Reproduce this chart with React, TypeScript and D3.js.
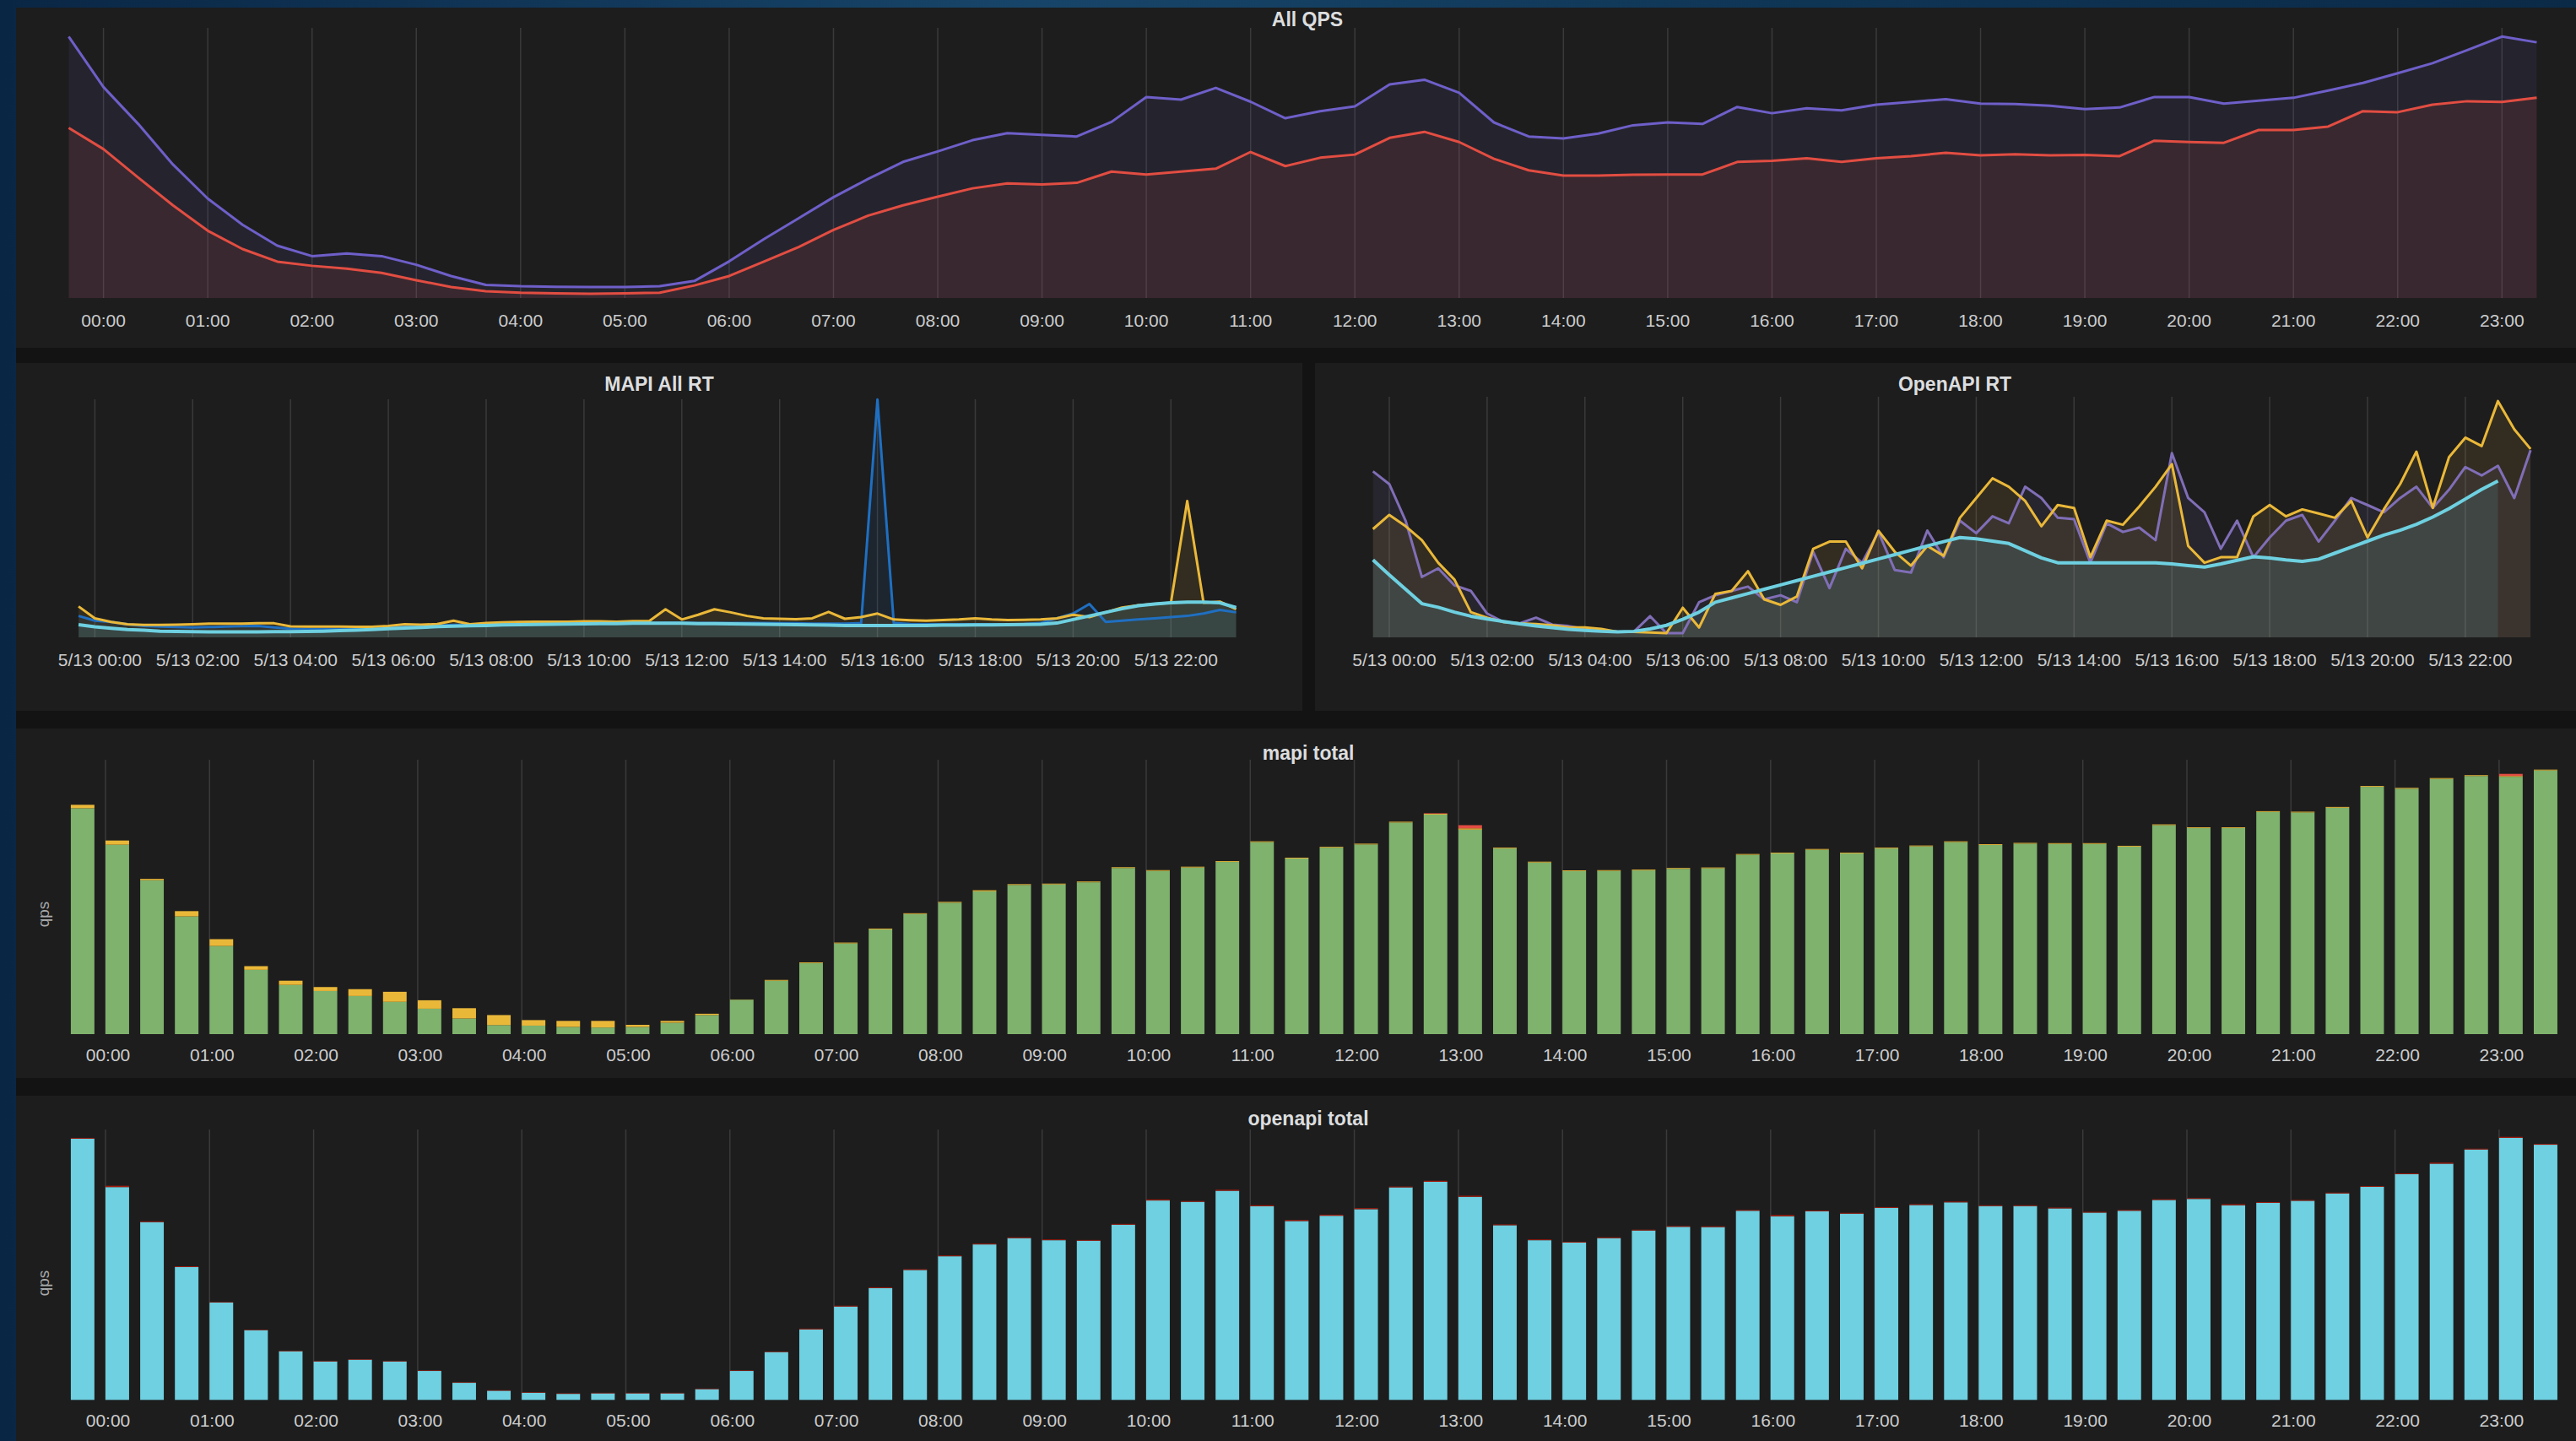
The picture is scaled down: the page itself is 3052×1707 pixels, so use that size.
import * as d3 from 'd3';
import React from 'react';

const W = 3052;
const H = 1707;

// tick labels
const hourLabels = [
  '00:00', '01:00', '02:00', '03:00', '04:00', '05:00', '06:00', '07:00',
  '08:00', '09:00', '10:00', '11:00', '12:00', '13:00', '14:00', '15:00',
  '16:00', '17:00', '18:00', '19:00', '20:00', '21:00', '22:00', '23:00',
];
const rtLabels = [
  '5/13 00:00', '5/13 02:00', '5/13 04:00', '5/13 06:00', '5/13 08:00', '5/13 10:00',
  '5/13 12:00', '5/13 14:00', '5/13 16:00', '5/13 18:00', '5/13 20:00', '5/13 22:00',
];

// samples are 20 minutes apart, the first one at 23:40 of the previous day
const sampleHour = (i: number) => (i - 1) / 3;

// All QPS
const qpsTotal = [
  99.9, 80.6, 66.5, 51, 38, 28, 20, 16, 17, 16,
  12.7, 8.4, 5, 4.5, 4.3, 4.2, 4.2, 4.5, 6.5, 14,
  22.5, 30.5, 38.5, 45.5, 52, 56, 60.3, 63, 62.3, 61.7,
  67.3, 76.8, 75.8, 80.3, 75, 68.7, 71.4, 73.2, 81.6, 83.4,
  78.4, 67.1, 61.7, 61, 62.8, 66, 67.1, 66.5, 73, 70.6,
  72.5, 71.7, 73.9, 74.9, 76, 74.3, 74.1, 73.5, 72.2, 72.8,
  76.8, 76.8, 74.3, 75.4, 76.5, 79.3, 82.2, 85.9, 89.7, 94.7,
  99.9, 97.7,
];
const qpsMapi = [
  65, 56.9, 46, 35.4, 25.7, 18.7, 13.9, 12.3, 11.2, 9.6,
  6.8, 4.2, 2.6, 2, 1.8, 1.6, 1.8, 2, 4.8, 8.4,
  13.9, 19.5, 26, 31.5, 35.4, 38.7, 41.9, 43.8, 43.4, 44,
  48.3, 47.2, 48.3, 49.4, 55.8, 50.4, 53.6, 54.8, 61.2, 63.5,
  59.6, 53.2, 48.8, 46.8, 46.8, 47.1, 47.2, 47.2, 52, 52.4,
  53.4, 52, 53.4, 54.2, 55.5, 54.5, 54.9, 54.5, 54.7, 54.2,
  60.1, 59.6, 59.3, 64.2, 64.2, 65.5, 71.4, 71, 73.9, 75.2,
  74.9, 76.5,
];

// MAPI All RT
const mapiRtBlue = [
  9, 7, 6.5, 5.5, 4.8, 4.5, 4.3, 4.2, 4.3, 4.5,
  4.7, 4.8, 4.2, 3.6, 3.5, 3.5, 3.5, 3.5, 3.6, 4.0,
  4.5, 4.8, 5.0, 5.2, 5.3, 5.5, 5.6, 5.6, 5.7, 5.7,
  5.8, 5.8, 5.9, 5.9, 6.0, 6.0, 6.1, 6.1, 6.0, 6.0,
  6.0, 6.0, 6.0, 5.9, 5.9, 5.8, 5.8, 5.8, 6.0, 99.9,
  6.0, 5.6, 5.5, 5.5, 5.5, 5.5, 5.5, 5.5, 5.6, 6.0,
  8.0, 10.0, 14.0, 6.5, 7.0, 7.5, 8.0, 8.5, 9.0, 10.0,
  11.5, 10.5,
];
const mapiRtYellow = [
  13, 8, 6.5, 5.5, 5.2, 5.2, 5.3, 5.5, 5.8, 5.8,
  5.8, 5.9, 5.9, 4.6, 4.5, 4.5, 4.5, 4.4, 4.4, 4.8,
  5.5, 5.3, 5.6, 7.0, 5.5, 6.0, 6.3, 6.5, 6.6, 6.6,
  6.6, 6.7, 6.7, 6.6, 6.8, 6.8, 11.8, 7.5, 9.5, 11.8,
  10.5, 9.0, 8.0, 7.8, 7.6, 8.0, 10.7, 7.8, 8.5, 10.0,
  7.5, 7.2, 7.0, 7.3, 7.5, 8.0, 7.5, 7.3, 7.4, 7.5,
  8.0, 9.5, 8.5, 10.5, 12.5, 13.5, 14.0, 14.5, 57.3, 14.5,
  15, 11.8,
];
const mapiRtCyan = [
  5.3, 4.4, 3.8, 3.3, 3.0, 2.6, 2.5, 2.4, 2.3, 2.3,
  2.3, 2.3, 2.4, 2.4, 2.5, 2.6, 2.8, 3.0, 3.3, 3.6,
  3.9, 4.2, 4.5, 4.7, 4.9, 5.0, 5.2, 5.3, 5.4, 5.5,
  5.6, 5.7, 5.8, 5.8, 5.9, 5.9, 5.9, 5.9, 5.8, 5.8,
  5.7, 5.6, 5.5, 5.4, 5.3, 5.2, 5.1, 5.0, 5.0, 5.0,
  5.0, 5.0, 5.0, 5.1, 5.1, 5.2, 5.2, 5.3, 5.4, 5.5,
  6.0, 7.5, 9.0, 10.5, 12.0, 13.3, 14.0, 14.5, 14.8, 14.8,
  14.5, 12.5,
];

// OpenAPI RT
const openRtPurple = [
  69, 63.7, 48.5, 25.1, 28.7, 21.6, 19.3, 9.9, 6.4, 5.8,
  8.2, 5.3, 4.7, 3.5, 2.9, 2.3, 2.3, 8.8, 1.75, 1.75,
  14.6, 17.5, 19.3, 21.1, 15.8, 17.5, 14.6, 35.6, 20.5, 36.8,
  31, 43.8, 28, 26.9, 44.4, 33.3, 48.5, 43.3, 50.3, 47.4,
  62.6, 57.9, 49.7, 49.1, 31, 47.4, 43.8, 45.6, 40.4, 76.6,
  57.9, 52, 36.8, 48.5, 33.3, 41.5, 48.5, 50.9, 39.8, 48.5,
  57.9, 55, 52, 57.9, 62.6, 53.8, 61.4, 70.8, 67.3, 71.3,
  57.9, 77.8,
];
const openRtYellow = [
  45, 50.9, 46.2, 40.4, 31, 24, 10.5, 8.2, 6.4, 5.8,
  5.5, 5, 4.1, 4.1, 3.5, 2.3, 2.3, 2.0, 1.75, 12.3,
  4.1, 18.1, 19.3, 27.5, 15.8, 13.5, 17, 36.8, 39.8, 39.8,
  28.7, 44.3, 35.6, 29.8, 38, 33.9, 49.7, 57.9, 66.1, 62.6,
  56.7, 46.2, 55, 53.8, 33.3, 48.5, 46.8, 54.4, 62.6, 72,
  38, 31, 33.3, 33.3, 50.3, 55, 50.3, 53.2, 51.5, 49.7,
  56.7, 41.5, 53.2, 63.7, 77.2, 53.8, 74.9, 83, 79.5, 98.2,
  86.5, 78.3,
];
const openRtCyan: (number | null)[] = [
  32.2, 26, 20, 14, 12.5, 10.5, 8.8, 7.6, 6.6, 5.6,
  4.7, 4.0, 3.3, 2.9, 2.5, 2.3, 2.5, 3.5, 5.0, 7.5,
  10.5, 14.6, 16.4, 18.2, 20, 21.8, 23.6, 25.4, 27.2, 29,
  30.8, 32.6, 34.4, 36.2, 38, 39.8, 41.5, 41, 40, 39,
  36, 33, 31, 31, 31, 31, 31, 31, 31, 30.5,
  29.8, 29.2, 30.5, 32, 33.5, 33, 32.2, 31.6, 32.5, 35,
  37.5, 40, 42.5, 44.5, 47, 50, 53.5, 57.5, 61.5, 65,
  null, null,
];

// mapi total (stacked)
const mapiOk = [
  85.4, 71.6, 58.2, 44.5, 33.3, 24.3, 18.6, 16.3, 14.4, 12.2,
  9.6, 5.9, 3.4, 3.2, 2.7, 2.5, 2.7, 4.3, 7.2, 13,
  20.2, 26.8, 34.3, 39.6, 45.4, 49.7, 54, 56.4, 56.6, 57.4,
  62.8, 61.7, 63, 65.1, 72.6, 66.4, 70.5, 71.7, 80, 83,
  77.3, 70.2, 64.9, 61.6, 61.7, 61.9, 62.5, 62.7, 67.8, 68.3,
  69.7, 68.3, 70.2, 71, 72.6, 71.5, 72, 71.9, 71.9, 70.9,
  79, 77.9, 77.9, 84, 83.8, 85.6, 93.5, 92.8, 96.5, 97.6,
  97.3, 99.7,
];
const mapiWarn = [
  1.3, 1.6, 0.5, 2.0, 2.6, 1.4, 1.6, 1.5, 2.6, 3.8,
  3.2, 3.9, 3.8, 2.1, 2.3, 2.5, 0.8, 0.7, 0.5, 0.1,
  0.3, 0.3, 0.3, 0.3, 0.3, 0.3, 0.4, 0.3, 0.3, 0.3,
  0.3, 0.3, 0.3, 0.3, 0.3, 0.3, 0.3, 0.3, 0.3, 0.3,
  0.5, 0.3, 0.3, 0.3, 0.3, 0.3, 0.3, 0.3, 0.3, 0.3,
  0.3, 0.3, 0.3, 0.3, 0.3, 0.3, 0.3, 0.3, 0.3, 0.3,
  0.3, 0.3, 0.3, 0.3, 0.3, 0.3, 0.3, 0.3, 0.3, 0.3,
  0.3, 0.3,
];
const mapiErr = [
  0, 0, 0, 0, 0, 0, 0, 0, 0, 0,
  0, 0, 0, 0, 0, 0, 0, 0, 0, 0,
  0, 0, 0, 0, 0, 0, 0, 0, 0, 0,
  0, 0, 0, 0, 0, 0, 0, 0, 0, 0.2,
  1.2, 0, 0, 0, 0, 0, 0, 0, 0, 0,
  0, 0, 0, 0, 0, 0, 0, 0, 0, 0,
  0, 0, 0, 0, 0, 0, 0, 0, 0, 0,
  0.8, 0,
];

// openapi total (stacked)
const openOk = [
  99.3, 80.9, 67.6, 50.5, 37.0, 26.5, 18.5, 14.6, 15.3, 14.6,
  11.0, 6.5, 3.5, 2.7, 2.3, 2.5, 2.5, 2.5, 4.1, 11.0,
  18.2, 26.8, 35.5, 42.5, 49.4, 54.6, 59.1, 61.5, 60.7, 60.5,
  66.6, 75.8, 75.3, 79.5, 73.6, 68.0, 70.0, 72.5, 80.8, 82.9,
  77.2, 66.4, 60.7, 59.8, 61.5, 64.4, 65.8, 65.7, 71.9, 69.8,
  71.7, 70.8, 73.0, 74.1, 75.1, 73.7, 73.7, 72.8, 71.2, 71.9,
  76.0, 76.4, 74.0, 74.9, 75.7, 78.5, 81.0, 85.8, 89.8, 95.2,
  99.6, 97.0,
];
const openErr = [
  0.3, 0.5, 0.3, 0.3, 0.2, 0.2, 0.2, 0.2, 0.2, 0.2,
  0.2, 0.2, 0.2, 0.2, 0.2, 0.2, 0.2, 0.2, 0.2, 0.2,
  0.2, 0.3, 0.3, 0.3, 0.3, 0.3, 0.3, 0.3, 0.3, 0.3,
  0.3, 0.4, 0.3, 0.4, 0.4, 0.4, 0.4, 0.4, 0.3, 0.4,
  0.4, 0.3, 0.3, 0.3, 0.3, 0.3, 0.3, 0.3, 0.3, 0.5,
  0.3, 0.3, 0.3, 0.3, 0.3, 0.3, 0.3, 0.3, 0.3, 0.3,
  0.3, 0.3, 0.4, 0.3, 0.3, 0.3, 0.3, 0.3, 0.4, 0.3,
  0.4, 0.3,
];

const PANEL = '#1d1d1d';
const GAP = '#131313';
const GRID = 'rgba(255,255,255,0.13)';
const TEXT = '#cbcccd';
const TITLE = '#dcdddf';
const FONT = '"Liberation Sans", Arial, Helvetica, sans-serif';

type Series = { values: (number | null)[]; color: string; fill: number; width: number };

function LineChart({ series, x, y, gridHours, labels, labelDx, gridTop, labelY }: {
  series: Series[];
  x: d3.ScaleLinear<number, number>;
  y: d3.ScaleLinear<number, number>;
  gridHours: number[];
  labels: string[];
  labelDx: number;
  gridTop: number;
  labelY: number;
}) {
  const line = d3.line<number | null>()
    .defined((d) => d != null)
    .x((_, i) => x(sampleHour(i)))
    .y((d) => y(d as number));
  const area = d3.area<number | null>()
    .defined((d) => d != null)
    .x((_, i) => x(sampleHour(i)))
    .y0(y(0))
    .y1((d) => y(d as number));
  return (
    <g>
      {gridHours.map((h) => (
        <line key={h} x1={x(h)} x2={x(h)} y1={gridTop} y2={y(0)} stroke={GRID} strokeWidth={1.5} />
      ))}
      {series.map((s, k) => (
        <path key={'a' + k} d={area(s.values) || ''} fill={s.color} fillOpacity={s.fill} />
      ))}
      {series.map((s, k) => (
        <path key={'l' + k} d={line(s.values) || ''} fill="none" stroke={s.color}
          strokeWidth={s.width} strokeLinejoin="round" />
      ))}
      {labels.map((t, k) => (
        <text key={t} x={x(gridHours[k]) + labelDx} y={labelY} dy="0.35em" textAnchor="middle"
          fill={TEXT} fontSize={21} fontFamily={FONT}>{t}</text>
      ))}
    </g>
  );
}

function BarChart({ rows, keys, colors, x, y, gridTop, labelY }: {
  rows: Record<string, number>[];
  keys: string[];
  colors: string[];
  x: d3.ScaleLinear<number, number>;
  y: d3.ScaleLinear<number, number>;
  gridTop: number;
  labelY: number;
}) {
  const stacked = d3.stack<Record<string, number>>().keys(keys)(rows);
  const barW = 0.68 * (x(1 / 3) - x(0));
  return (
    <g>
      {hourLabels.map((_, h) => (
        <line key={h} x1={x(h)} x2={x(h)} y1={gridTop} y2={y(0)} stroke={GRID} strokeWidth={1.5} />
      ))}
      {stacked.map((layer, k) => (
        <g key={keys[k]} fill={colors[k]}>
          {layer.map((d, i) => (
            <rect key={i} x={x(sampleHour(i))} width={barW} y={y(d[1])}
              height={Math.max(0, y(d[0]) - y(d[1]))} />
          ))}
        </g>
      ))}
      {hourLabels.map((t, h) => (
        <text key={t} x={x(h) + 3} y={labelY} dy="0.35em" textAnchor="middle"
          fill={TEXT} fontSize={21} fontFamily={FONT}>{t}</text>
      ))}
    </g>
  );
}

const Title = ({ x, y, children }: { x: number; y: number; children: string }) => (
  <text x={x} y={y} dy="0.35em" textAnchor="middle" fill={TITLE} fontSize={23}
    fontWeight="bold" fontFamily={FONT}>{children}</text>
);

const QpsLabel = ({ y }: { y: number }) => (
  <text transform={`translate(51,${y}) rotate(-90)`} dy="0.35em" textAnchor="middle"
    fill="#a9aaab" fontSize={19} fontFamily={FONT}>qps</text>
);

export default function App() {
  const everyHour = hourLabels.map((_, h) => h);
  const everyTwo = rtLabels.map((_, k) => k * 2);

  const xQps = d3.scaleLinear().domain([0, 23]).range([122.6, 2964.3]);
  const yQps = d3.scaleLinear().domain([0, 100]).range([353, 43]);

  const xMapiRt = d3.scaleLinear().domain([0, 22]).range([112.4, 1387.3]);
  const yMapiRt = d3.scaleLinear().domain([0, 100]).range([755, 473]);

  const xOpenRt = d3.scaleLinear().domain([0, 22]).range([1646, 2920.9]);
  const yOpenRt = d3.scaleLinear().domain([0, 100]).range([755, 470]);

  const xBars = d3.scaleLinear().domain([0, 23]).range([125, 2960.9]);
  const yMapiBars = d3.scaleLinear().domain([0, 100]).range([1225, 911.7]);
  const yOpenBars = d3.scaleLinear().domain([0, 100]).range([1658.3, 1346.7]);

  const mapiRows = mapiOk.map((v, i) => ({ ok: v, warn: mapiWarn[i], err: mapiErr[i] }));
  const openRows = openOk.map((v, i) => ({ ok: v, err: openErr[i] }));

  return (
    <svg width={W} height={H} viewBox={`0 0 ${W} ${H}`}
      style={{ position: 'absolute', left: 0, top: 0, display: 'block' }}>
      <defs>
        <linearGradient id="bg" x1="0" x2="1" y1="0" y2="0">
          <stop offset="0" stopColor="#0a2645" />
          <stop offset="0.4" stopColor="#174569" />
          <stop offset="0.7" stopColor="#0f3555" />
          <stop offset="1" stopColor="#0b2a48" />
        </linearGradient>
      </defs>
      <rect width={W} height={H} fill="url(#bg)" />
      <rect x={19} y={9} width={W - 19} height={H - 9} fill={GAP} />

      <rect x={19} y={9} width={W - 19} height={403} fill={PANEL} />
      <rect x={19} y={430} width={1524} height={412} fill={PANEL} />
      <rect x={1558} y={430} width={W - 1558} height={412} fill={PANEL} />
      <rect x={19} y={863} width={W - 19} height={414} fill={PANEL} />
      <rect x={19} y={1298} width={W - 19} height={H - 1298} fill={PANEL} />

      <Title x={1549} y={23}>All QPS</Title>
      <LineChart
        series={[
          { values: qpsTotal, color: '#6e5fc9', fill: 0.1, width: 3 },
          { values: qpsMapi, color: '#e24d42', fill: 0.11, width: 3 },
        ]}
        x={xQps} y={yQps} gridHours={everyHour} labels={hourLabels} labelDx={0}
        gridTop={33} labelY={380}
      />

      <Title x={781} y={455}>MAPI All RT</Title>
      <LineChart
        series={[
          { values: mapiRtBlue, color: '#1f6fc1', fill: 0.1, width: 3 },
          { values: mapiRtYellow, color: '#eab839', fill: 0.1, width: 3 },
          { values: mapiRtCyan, color: '#6ed0e0', fill: 0.12, width: 4 },
        ]}
        x={xMapiRt} y={yMapiRt} gridHours={everyTwo} labels={rtLabels} labelDx={6}
        gridTop={473} labelY={782}
      />

      <Title x={2316} y={455}>OpenAPI RT</Title>
      <LineChart
        series={[
          { values: openRtPurple, color: '#806eb7', fill: 0.1, width: 3 },
          { values: openRtYellow, color: '#eab839', fill: 0.1, width: 3 },
          { values: openRtCyan, color: '#6ed0e0', fill: 0.12, width: 4 },
        ]}
        x={xOpenRt} y={yOpenRt} gridHours={everyTwo} labels={rtLabels} labelDx={6}
        gridTop={470} labelY={782}
      />

      <Title x={1550} y={892}>mapi total</Title>
      <QpsLabel y={1083} />
      <BarChart rows={mapiRows} keys={['ok', 'warn', 'err']} colors={['#7eb26d', '#eab839', '#e24d42']}
        x={xBars} y={yMapiBars} gridTop={900} labelY={1250} />

      <Title x={1550} y={1325}>openapi total</Title>
      <QpsLabel y={1520} />
      <BarChart rows={openRows} keys={['ok', 'err']} colors={['#6ed0e0', '#a31c0e']}
        x={xBars} y={yOpenBars} gridTop={1338} labelY={1683} />
    </svg>
  );
}
